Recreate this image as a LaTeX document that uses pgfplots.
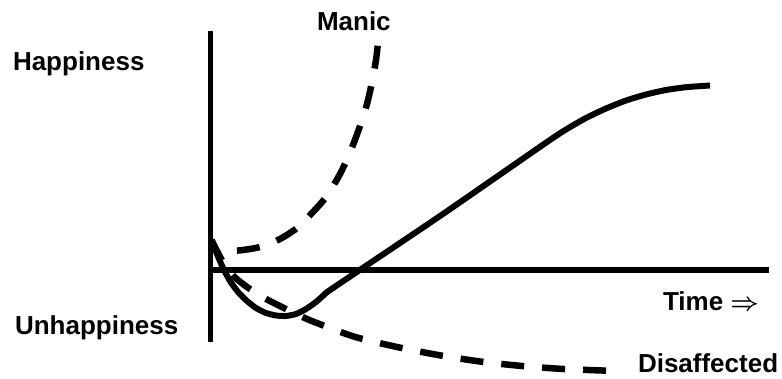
\documentclass[border=0pt]{standalone}
\usepackage{pgfplots}
\pgfplotsset{compat=1.18}
\usepackage{amsmath}
\usepackage{fontspec}
\setmainfont{Liberation Sans}

\tikzset{lbl/.style={font=\fontsize{26}{30}\selectfont\bfseries, inner sep=0pt, outer sep=0pt, anchor=base west}}

% Curves, in canvas units (y grows downward)
\pgfplotstableread{
x y
211.5 240
217 254
223 268
230 281
238 292
247 301
256 308
266 313
276 315.5
286 316
296 314
306 309
316 302
325 294
333 288
440 216
547 142
566 129.5
586 118
606 108.5
626 100.5
646 94.5
666 90
686 87.2
710 85.5
}\tablesolid

\pgfplotstableread{
x y
219 250
238 250.5
260 247
279 239.5
297 228
312 213
326 197
340 174
351 150
360 126
367 104
372 82
376 60
378.5 38
}\tablemanic

\pgfplotstableread{
x y
211.5 240
217 251
223 262
233 275.5
243 284
253 291
268 300
288 310
307 319
330 328
357 337.5
397 347
438 355
480 361.5
522 366
564 369
617 371
}\tabledisaffected

\begin{document}
\begin{tikzpicture}
\begin{axis}[
  scale only axis,
  width=782pt, height=379pt,
  xmin=0, xmax=782, ymin=0, ymax=379,
  y dir=reverse,
  axis lines=none,
  clip=false,
]
% axes
\draw[line width=5pt] (axis cs:210,31) -- (axis cs:210,342);
\draw[line width=6pt] (axis cs:210,270) -- (axis cs:769,270);

% curves
\addplot[line width=6pt, smooth, tension=0.35] table {\tablesolid};
\addplot[line width=6.5pt, smooth, tension=0.5, dash pattern=on 23pt off 18pt, dash phase=23pt] table {\tablemanic};
\addplot[line width=6.5pt, smooth, tension=0.5, dash pattern=on 23pt off 18pt] table {\tabledisaffected};

% labels
\node[lbl] at (axis cs:13,71) {Happiness};
\node[lbl] at (axis cs:15,335) {Unhappiness};
\node[lbl] at (axis cs:317,31) {Manic};
\node[lbl] at (axis cs:663,311) {Time $\boldsymbol{\Rightarrow}$};
\node[lbl] at (axis cs:638,372) {Disaffected};
\end{axis}
\pgfresetboundingbox
\path (current axis.south west) rectangle (current axis.north east);
\end{tikzpicture}
\end{document}
